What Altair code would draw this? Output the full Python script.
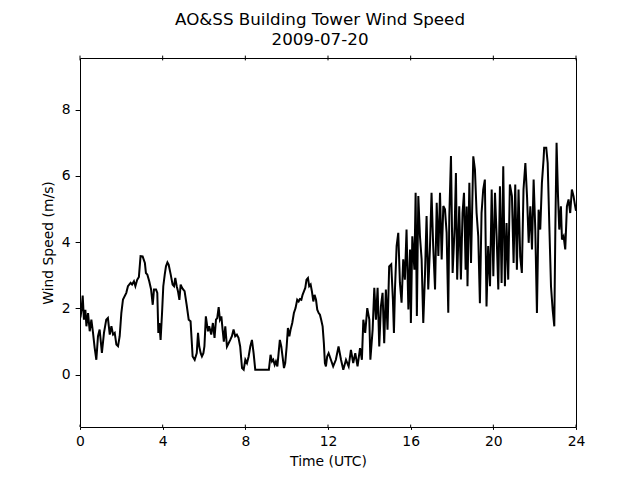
import altair as alt
import pandas as pd

# Time (hours UTC) and wind speed (m/s)
hours = [
    0.00, 0.03, 0.08, 0.13, 0.19, 0.26, 0.31, 0.39, 0.47, 0.55, 0.63, 0.71, 0.79, 0.87, 0.95,
    1.06, 1.16, 1.27, 1.35, 1.44, 1.52, 1.60, 1.68, 1.76, 1.84, 1.92, 2.00, 2.08, 2.24, 2.32,
    2.45, 2.52, 2.61, 2.68, 2.77, 2.85, 2.93,
    3.03, 3.14, 3.19, 3.26, 3.35, 3.44, 3.52, 3.58, 3.68, 3.74, 3.79, 3.84, 3.90, 3.97,
    4.03, 4.10, 4.16, 4.23, 4.29, 4.39, 4.48, 4.55, 4.61, 4.68, 4.74, 4.81, 4.87, 4.94,
    5.00, 5.06, 5.16, 5.26, 5.35, 5.45, 5.55, 5.65, 5.71, 5.77, 5.84, 5.90, 5.97,
    6.02, 6.09, 6.19, 6.25, 6.35, 6.43, 6.51, 6.58, 6.64, 6.71, 6.77, 6.84, 6.90, 6.96,
    7.03, 7.11, 7.19, 7.27, 7.35, 7.43, 7.51, 7.59, 7.67, 7.75, 7.84, 7.92,
    8.00, 8.08, 8.16, 8.24, 8.32, 8.40, 8.48, 8.60, 8.80, 9.00, 9.14,
    9.22, 9.29, 9.35, 9.42, 9.48, 9.55, 9.61, 9.67, 9.74, 9.80, 9.87, 9.93,
    10.00, 10.06, 10.13, 10.19, 10.27, 10.35, 10.43, 10.51, 10.58, 10.64, 10.71, 10.77, 10.84, 10.90, 10.96,
    11.03, 11.09, 11.16, 11.22, 11.29, 11.35, 11.42, 11.48, 11.55, 11.61, 11.67, 11.74, 11.80, 11.85, 11.90, 11.96,
    12.03, 12.14, 12.25, 12.38, 12.51, 12.63, 12.74, 12.87,
    13.00, 13.11, 13.22, 13.32, 13.43, 13.55, 13.64, 13.71, 13.80, 13.90,
    14.00, 14.05, 14.16, 14.24, 14.32, 14.40, 14.48, 14.56, 14.64, 14.72, 14.80, 14.88, 14.96,
    15.06, 15.14, 15.19, 15.24, 15.32, 15.40, 15.48, 15.56, 15.64, 15.72, 15.80, 15.89, 15.97,
    16.01, 16.08, 16.18, 16.24, 16.30, 16.37, 16.45, 16.53, 16.61, 16.69, 16.77, 16.85, 16.93,
    17.01, 17.09, 17.18, 17.26, 17.34, 17.42, 17.50, 17.58, 17.66, 17.74, 17.82, 17.87, 17.95,
    18.03, 18.13, 18.19, 18.25, 18.35, 18.43, 18.51, 18.58, 18.66, 18.71, 18.75, 18.84, 18.92,
    19.03, 19.11, 19.19, 19.27, 19.35, 19.43, 19.51, 19.59, 19.67, 19.75, 19.84, 19.92,
    20.00, 20.08, 20.16, 20.24, 20.32, 20.40, 20.48, 20.56, 20.64, 20.72, 20.80, 20.90, 20.98,
    21.06, 21.14, 21.22, 21.30, 21.38, 21.46, 21.55, 21.63, 21.71, 21.79, 21.87, 21.95,
    22.03, 22.11, 22.19, 22.27, 22.35, 22.43, 22.46, 22.56, 22.63, 22.71, 22.79, 22.87, 22.95,
    23.00, 23.06, 23.13, 23.19, 23.27, 23.32, 23.40, 23.48, 23.56, 23.64, 23.72, 23.80, 23.88, 23.96, 24.00,
]

speeds = [
    1.70, 1.76, 2.00, 2.39, 1.66, 1.96, 1.46, 1.86, 1.31, 1.66, 1.26, 0.81, 0.45, 1.16, 1.36,
    0.66, 1.26, 1.66, 1.71, 1.21, 1.46, 1.21, 1.26, 0.91, 0.86, 1.16, 1.86, 2.27, 2.47, 2.67,
    2.77, 2.72, 2.82, 2.67, 2.87, 2.95, 3.58,
    3.57, 3.37, 3.07, 3.02, 2.82, 2.57, 2.11, 2.57, 2.57, 2.47, 1.26, 1.56, 1.05, 1.86,
    2.67, 3.02, 3.27, 3.39, 3.32, 3.02, 2.72, 2.67, 2.92, 2.67, 2.52, 2.26, 2.72, 2.62,
    2.57, 2.52, 2.11, 1.66, 1.61, 0.55, 0.45, 0.65, 1.26, 0.85, 0.65, 0.55, 0.65,
    0.85, 1.76, 1.31, 1.46, 1.21, 1.56, 1.11, 1.66, 1.71, 2.04, 1.66, 1.76, 1.36, 1.00,
    1.46, 0.85, 0.95, 1.05, 1.16, 1.36, 1.16, 1.21, 1.11, 0.85, 0.20, 0.15,
    0.45, 0.35, 0.55, 0.85, 1.05, 0.65, 0.15, 0.15, 0.15, 0.15, 0.15,
    0.60, 0.40, 0.45, 0.30, 0.40, 0.25, 0.65, 1.05, 0.85, 0.55, 0.20, 0.35,
    0.85, 1.41, 1.16, 1.36, 1.56, 1.86, 2.01, 2.26, 2.21, 2.28, 2.26, 2.41, 2.52, 2.62, 2.87,
    2.92, 2.67, 2.72, 2.52, 2.21, 2.41, 2.26, 1.96, 1.86, 1.81, 1.66, 1.46, 0.95, 0.35, 0.25, 0.55,
    0.65, 0.45, 0.25, 0.45, 0.85, 0.45, 0.15, 0.45,
    0.25, 0.75, 0.35, 0.65, 0.25, 0.80, 0.45, 1.66, 1.26, 2.01,
    1.66, 0.45, 1.36, 2.62, 1.66, 2.62, 0.85, 2.06, 2.47, 0.95, 2.57, 1.36, 3.27,
    3.33, 2.27, 1.26, 2.57, 3.88, 4.28, 2.77, 2.17, 3.48, 2.87, 4.38, 1.97, 3.78,
    1.56, 4.18, 3.17, 5.49, 1.77, 5.39, 4.18, 3.48, 1.56, 2.97, 4.79, 2.57, 3.78,
    5.49, 3.88, 2.57, 5.19, 3.58, 5.49, 3.48, 5.09, 4.99, 4.28, 1.87, 4.79, 6.60,
    3.07, 4.48, 6.09, 2.87, 5.08, 2.87, 4.88, 5.49, 3.17, 5.08, 2.67, 5.79, 3.37,
    6.59, 6.19, 4.88, 4.18, 2.16, 4.88, 5.59, 5.89, 2.06, 3.88, 2.67, 5.59,
    2.97, 5.49, 4.18, 2.57, 5.69, 2.77, 6.29, 2.67, 4.58, 2.87, 5.74, 5.39, 3.37,
    5.74, 3.17, 5.59, 3.57, 3.07, 5.59, 6.39, 5.39, 3.98, 5.08, 3.78, 5.89,
    4.38, 1.86, 4.98, 4.38, 5.79, 6.49, 6.85, 6.85, 6.39, 4.48, 2.67, 1.96, 1.46,
    4.38, 7.00, 5.39, 4.38, 5.08, 4.08, 4.18, 3.78, 5.08, 5.29, 4.88, 5.59, 5.39, 5.08, 4.95,
]

x_ticks = [0, 4, 8, 12, 16, 20, 24]
y_ticks = [0, 2, 4, 6, 8]
x_domain = [0, 24]
y_domain = [-1.58, 9.56]

W, H = 496, 369
FONT = "DejaVu Sans"

df = pd.DataFrame({"hour": hours, "speed": speeds})
ticks_df = pd.DataFrame({"hour": x_ticks})

xscale = alt.Scale(domain=x_domain, nice=False, zero=False)
yscale = alt.Scale(domain=y_domain, nice=False, zero=False)

x_axis = alt.Axis(values=x_ticks, title="Time (UTC)", tickSize=2.4,
                  labelPadding=4.9, titlePadding=6, format="d", labelFlush=False,
                  domain=False, grid=False)
y_axis = alt.Axis(values=y_ticks, title="Wind Speed (m/s)", tickSize=4.9,
                  labelPadding=4.9, titlePadding=6, format="d", labelFlush=False,
                  domain=False, grid=False)

line = alt.Chart(df).mark_line(color="black", strokeWidth=2, clip=True).encode(
    x=alt.X("hour:Q", scale=xscale, axis=x_axis),
    y=alt.Y("speed:Q", scale=yscale, axis=y_axis),
)

# inward half of bottom ticks, and in-out ticks on the top spine
bottom_in = alt.Chart(ticks_df).mark_rule(color="black", strokeWidth=1).encode(
    x=alt.X("hour:Q", scale=xscale, axis=x_axis),
    y=alt.value(H - 2.4), y2=alt.value(H),
)
top_inout = alt.Chart(ticks_df).mark_rule(color="black", strokeWidth=1).encode(
    x=alt.X("hour:Q", scale=xscale, axis=x_axis),
    y=alt.value(-2.4), y2=alt.value(2.4),
)

chart = alt.layer(line, bottom_in, top_inout).properties(
    width=W, height=H,
    autosize=alt.AutoSizeParams(type="none"),
    padding={"left": 72, "top": 50, "right": 48, "bottom": 45},
    background="white",
    title=alt.TitleParams(
        text=["AO&SS Building Tower Wind Speed", "2009-07-20"],
        font=FONT, fontSize=16.7, fontWeight="normal", color="black",
        anchor="middle", dx=-8, offset=6, lineHeight=20,
    ),
).configure_view(
    stroke="black", strokeWidth=1,
).configure_axis(
    labelFont=FONT, labelFontSize=13.9, labelColor="black",
    titleFont=FONT, titleFontSize=13.9, titleColor="black", titleFontWeight="normal",
    tickColor="black", tickWidth=1,
)

chart.save("out.html", embed_options={"renderer": "svg", "actions": False})
